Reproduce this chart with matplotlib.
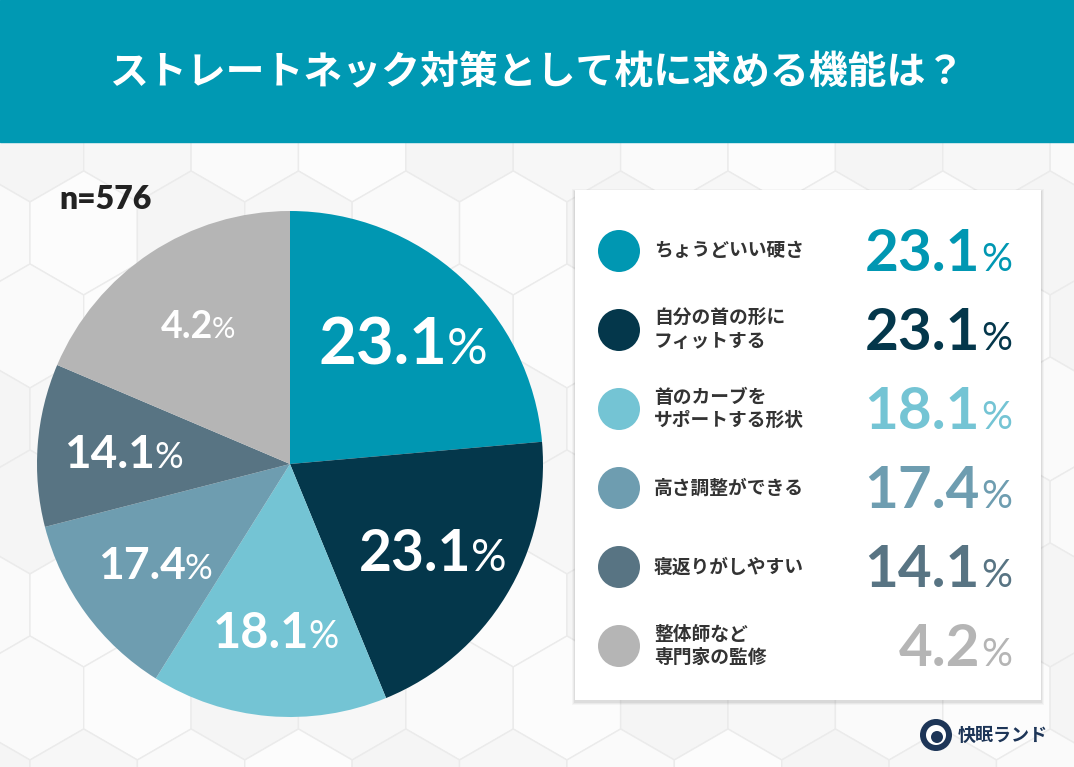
import numpy as np
import matplotlib
matplotlib.use("Agg")
import matplotlib.pyplot as plt
from matplotlib.patches import Rectangle, RegularPolygon, Circle

# survey: what pillows should do against straight neck (n=576)
labels = ["ちょうどいい硬さ", "自分の首の形に\nフィットする", "首のカーブを\nサポートする形状",
          "高さ調整ができる", "寝返りがしやすい", "整体師など\n専門家の監修"]
percent = [23.1, 23.1, 18.1, 17.4, 14.1, 4.2]
# the wedges in the original are not drawn to the printed numbers,
# these are the shares measured off the drawn wedges
drawn_share = [23.6, 20.2, 15.1, 12.1, 10.4, 18.6]
sample_note = "n=576"
title = "ストレートネック対策として枕に求める機能は？"

colors = ["#0097b2", "#04374b", "#74c4d4", "#6e9db0", "#587483", "#b5b5b5"]
pie_font = [47, 41, 35, 32, 33, 27]

W, H = 1074, 767
JP = ["Noto Sans CJK JP", "DejaVu Sans"]
NUM = ["Lato", "DejaVu Sans"]

fig = plt.figure(figsize=(W / 100, H / 100), dpi=100)

# background, drawn in pixel coordinates
bg = fig.add_axes([0, 0, 1, 1], zorder=0)
bg.set_xlim(0, W)
bg.set_ylim(H, 0)
bg.axis("off")
bg.add_patch(Rectangle((0, 0), W, H, color="#f6f6f6", zorder=0))
hr = 62
hw = np.sqrt(3) * hr
for row in range(-1, 10):
    for col in range(-1, 12):
        cx = col * hw + (hw / 2 if row % 2 else 0) + 30
        cy = row * 1.5 * hr + 140
        shade = 0.962 + 0.025 * ((row * 3 + col * 5) % 4) / 3
        bg.add_patch(RegularPolygon((cx, cy), 6, radius=hr, orientation=0,
                                    facecolor=(shade, shade, shade),
                                    edgecolor="#ebebeb", lw=1.0, zorder=1))
bg.add_patch(Rectangle((0, 0), W, 142, color="#0099b3", zorder=3))
bg.text(W / 2, 73, title, family=JP, weight="bold", fontsize=28,
        color="white", ha="center", va="center", zorder=4)

# legend card with a soft shadow
for k, a in enumerate([0.05, 0.04, 0.03]):
    bg.add_patch(Rectangle((575 - k - 1, 190 - k + 1), 466 + 2 * k + 2, 510 + 2 * k + 2,
                           color="black", alpha=a, lw=0, zorder=5))
bg.add_patch(Rectangle((575, 190), 466, 510, color="white", lw=0, zorder=6))

# pie
cx, cy, R = 290, 464, 253
pax = fig.add_axes([(cx - R) / W, (H - cy - R) / H, 2 * R / W, 2 * R / H], zorder=1)
wedges, _ = pax.pie(drawn_share, colors=colors, startangle=90, counterclock=False,
                    wedgeprops=dict(linewidth=0))
pax.set_xlim(-1, 1)
pax.set_ylim(-1, 1)
pax.set_aspect("equal")
pax.axis("off")

# overlay for all texts on top of the pie
ov = fig.add_axes([0, 0, 1, 1], zorder=2)
ov.set_xlim(0, W)
ov.set_ylim(H, 0)
ov.axis("off")
ov.patch.set_alpha(0)
renderer = fig.canvas.get_renderer()


def number_with_pct(x, y, value, size, color, pct_ratio=0.78, gap=0, center=True):
    num = ov.text(0, 0, f"{value:.1f}", family=NUM, weight="bold", fontsize=size,
                  color=color, ha="left", va="baseline")
    pct = ov.text(0, 0, "%", family=NUM, weight="normal", fontsize=size * pct_ratio,
                  color=color, ha="left", va="baseline")
    w1 = num.get_window_extent(renderer).width
    w2 = pct.get_window_extent(renderer).width
    if center:
        x0 = x - (w1 + gap + w2) / 2
        base = y + size * 0.72 * 100 / 72 / 2
    else:
        x0 = x - w1
        base = y
    num.set_position((x0, base))
    pct.set_position((x0 + w1 + gap, base))


for w, v, s in zip(wedges, percent, pie_font):
    mid = np.deg2rad((w.theta1 + w.theta2) / 2)
    r = 0.66 * R
    number_with_pct(cx + r * np.cos(mid), cy - r * np.sin(mid), v, s, "white", gap=-1)

ov.text(59, 209, sample_note, family=NUM, weight="heavy",
        fontsize=23, color="#222222", ha="left", va="baseline")

# legend rows
row_y = [251, 330, 409, 488, 567, 646]
for y, lab, v, c in zip(row_y, labels, percent, colors):
    ov.add_patch(Circle((619, y), 21, color=c, lw=0))
    lines = lab.split("\n")
    offs = [0] if len(lines) == 1 else [-11.5, 11.5]
    for line, o in zip(lines, offs):
        ov.text(654, y + o, line, family=JP, weight="bold", fontsize=13.5,
                color="#333333", ha="left", va="center")
    number_with_pct(980, y + 20, v, 42, c, pct_ratio=0.66, gap=1, center=False)

# brand mark
ov.add_patch(Circle((936, 735), 16, color="#1d3557", lw=0))
ov.add_patch(Circle((936, 735), 10, color="white", lw=0))
ov.add_patch(Circle((937, 737), 6, color="#1d3557", lw=0))
ov.text(958, 735, "快眠ランド", family=JP, weight="bold", fontsize=13,
        color="#1d3557", ha="left", va="center")

fig.savefig("out.png", dpi=100)
